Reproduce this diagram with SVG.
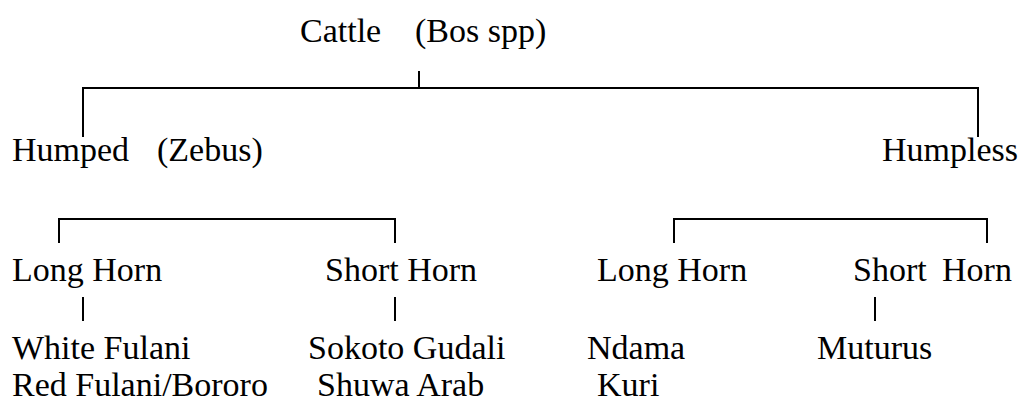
<svg xmlns="http://www.w3.org/2000/svg" width="1022" height="401" viewBox="0 0 1022 401">
<style>
text{font-family:"Liberation Serif","Times New Roman",serif;font-size:34px;fill:#000}
.c line{stroke:#000;stroke-width:2}
</style>
<rect width="1022" height="401" fill="#fff"/>
<g class="c" id="connectors">
<line x1="419" y1="71" x2="419" y2="88"/>
<line x1="82" y1="88" x2="979" y2="88"/>
<line x1="83" y1="87" x2="83" y2="137"/>
<line x1="978" y1="87" x2="978" y2="137"/>
<line x1="58" y1="219" x2="396" y2="219"/>
<line x1="59" y1="218" x2="59" y2="243"/>
<line x1="395" y1="218" x2="395" y2="243"/>
<line x1="673" y1="219" x2="988" y2="219"/>
<line x1="674" y1="218" x2="674" y2="243"/>
<line x1="987" y1="218" x2="987" y2="243"/>
<line x1="83" y1="297" x2="83" y2="321"/>
<line x1="395" y1="297" x2="395" y2="321"/>
<line x1="875" y1="297" x2="875" y2="321"/>
</g>
<g id="cattle"><text x="300" y="42">Cattle</text><text x="415" y="42">(Bos spp)</text></g>
<g id="humped"><text x="12" y="161">Humped</text><text x="157" y="161">(Zebus)</text></g>
<g id="humpless"><text x="882" y="161">Humpless</text></g>
<g id="zebu-long"><text x="12" y="281">Long Horn</text></g>
<g id="zebu-short"><text x="325" y="281">Short Horn</text></g>
<g id="humpless-long"><text x="597" y="281">Long Horn</text></g>
<g id="humpless-short"><text x="853" y="281">Short</text><text x="942" y="281">Horn</text></g>
<g id="zebu-long-breeds"><text x="12" y="359">White Fulani</text><text x="12" y="396">Red Fulani/Bororo</text></g>
<g id="zebu-short-breeds"><text x="308" y="359">Sokoto Gudali</text><text x="317" y="396">Shuwa Arab</text></g>
<g id="humpless-long-breeds"><text x="587" y="359">Ndama</text><text x="597" y="396">Kuri</text></g>
<g id="humpless-short-breeds"><text x="817" y="359">Muturus</text></g>
</svg>
